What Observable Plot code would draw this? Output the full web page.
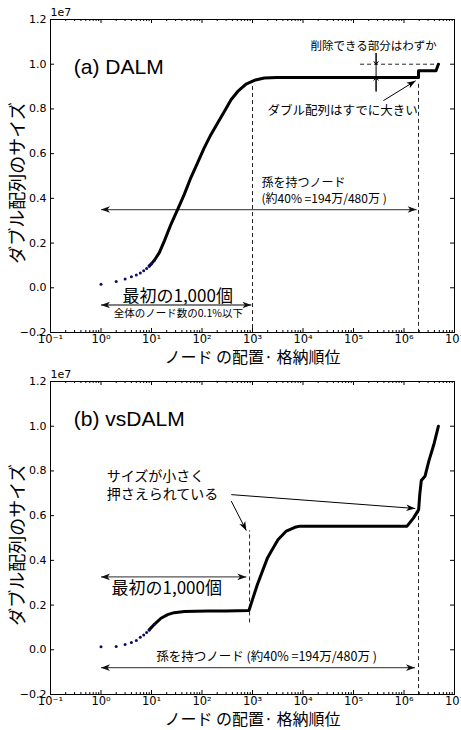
<!DOCTYPE html>
<html><head><meta charset="utf-8">
<script src="https://cdn.jsdelivr.net/npm/d3@7"></script>
<script src="https://cdn.jsdelivr.net/npm/@observablehq/plot@0.6"></script>
<style>body{margin:0;background:#fff} #c svg{display:block}</style>
</head><body><div id="c"></div>
<script>
// ---- data (y in units of 1e7) ----
const aX = [1,2,3,4,5,6,7,8,9,10,11.4,14.3,18,24.3,33,44.6,60,81.6,110,150,204,277,376,510,745,1090,1710,3000,1.94e6,1.94e6,4.3e6,4.8e6];
const aY = [0.016,0.028,0.039,0.049,0.057,0.066,0.076,0.086,0.097,0.108,0.123,0.157,0.21,0.284,0.351,0.418,0.492,0.559,0.625,0.685,0.737,0.789,0.841,0.878,0.911,0.928,0.938,0.941,0.941,0.971,0.971,1.0];
const bX = [1,2,3,4,5,6,7,8,9,11.4,15.4,20.9,28,44.7,130,300,850,1250,1980,2350,3220,4680,6900,8700,20000,1.15e6,1.55e6,1.95e6,2.05e6,2.2e6,2.6e6,3.1e6,3.9e6,4.8e6];
const bY = [0.014,0.015,0.024,0.033,0.042,0.056,0.066,0.077,0.089,0.114,0.141,0.157,0.166,0.171,0.173,0.174,0.176,0.292,0.411,0.441,0.493,0.531,0.548,0.553,0.553,0.553,0.59,0.627,0.694,0.757,0.776,0.844,0.918,1.0];
const yTicks = [-0.2,0,0.2,0.4,0.6,0.8,1.0,1.2];
const xTicks = [1e-1,1e0,1e1,1e2,1e3,1e4,1e5,1e6,1e7];
const yLabel = "ダブル配列のサイズ";
const xLabel = "ノード の配置· 格納順位";
const titleA = "(a) DALM";
const titleB = "(b) vsDALM";
const offsetText = "1e7";

// ---- layout ----
const W = 461, ml = 50, mr = 7, fh = 313;
const fw = W - ml - mr;
const panels = {a: {H: 368, mt: 19, mb: 36, xl: 25, xf: 16}, b: {H: 362, mt: 13, mb: 36, xl: 25, xf: 16}};
const xs = d3.scaleLog([0.1, 1e7], [ml, W - mr]);
const ys = d3.scaleLinear([-0.2, 1.2], [fh, 0]);
const minor = [];
for (let e = -1; e < 7; e++) for (let k = 2; k <= 9; k++) minor.push(k * Math.pow(10, e));
const supMap = {"-":"⁻","0":"⁰","1":"¹","2":"²","3":"³","4":"⁴","5":"⁵","6":"⁶","7":"⁷","8":"⁸","9":"⁹"};
const supFmt = d => "10" + String(Math.round(Math.log10(d))).split("").map(c => supMap[c]).join("");
const JP = "Noto Sans CJK JP";

function headSym(angle) {
  const c = Math.cos(angle), s = Math.sin(angle);
  const pts = [[0,0],[-9,-3.3],[-6.5,0],[-9,3.3]].map(([x,y]) => [x*c - y*s, x*s + y*c]);
  return {draw(ctx) { ctx.moveTo(pts[0][0], pts[0][1]); for (const p of pts.slice(1)) ctx.lineTo(p[0], p[1]); ctx.closePath(); }};
}
function arrow(x1, y1, x2, y2, {double = false, stroke = "#000", head = "#000", sw = 1} = {}) {
  const ang = Math.atan2(ys(y2) - ys(y1), xs(x2) - xs(x1));
  const marks = [
    Plot.link([{x1, y1, x2, y2}], {x1: "x1", y1: "y1", x2: "x2", y2: "y2", stroke, strokeWidth: sw}),
    Plot.dot([{x: x2, y: y2}], {x: "x", y: "y", symbol: headSym(ang), fill: head, stroke: "none", r: 3})
  ];
  if (double) marks.push(Plot.dot([{x: x1, y: y1}], {x: "x", y: "y", symbol: headSym(ang + Math.PI), fill: head, stroke: "none", r: 3}));
  return marks;
}
function txt(x, y, t, o = {}) {
  return Plot.text([{x, y, t}], {x: "x", y: "y", text: "t", fill: "#000", fontFamily: JP, ...o});
}
function dashV(x, y1, y2) {
  return Plot.ruleX([{x, y1, y2}], {x: "x", y1: "y1", y2: "y2", stroke: "#222", strokeWidth: 1, strokeDasharray: "4,3"});
}

function base(X, Y, title, extra, {H, mt, mb, xl, xf}) {
  const pts = X.map((x, i) => ({x, y: Y[i]}));
  return Plot.plot({
    width: W, height: H, marginTop: mt, marginBottom: mb, marginLeft: ml, marginRight: mr,
    x: {type: "log", domain: [0.1, 1e7]},
    y: {domain: [-0.2, 1.2]},
    style: {fontFamily: "DejaVu Sans", fontSize: "11px", color: "#000", background: "#fff"},
    marks: [
      ...extra,
      Plot.line(pts.filter(d => d.x >= 9), {x: "x", y: "y", stroke: "#000", strokeWidth: 3, strokeLinejoin: "round"}),
      Plot.dot(pts.filter(d => d.x <= 11.5), {x: "x", y: "y", r: 1.5, fill: "#0b0b6e", stroke: "none"}),
      Plot.frame({stroke: "#000", strokeWidth: 1}),
      Plot.tickX(xTicks, {x: d => d, insetTop: fh - 4, stroke: "#000"}),
      Plot.tickX(xTicks, {x: d => d, insetBottom: fh - 4, stroke: "#000"}),
      Plot.tickX(minor, {x: d => d, insetTop: fh - 2, stroke: "#000"}),
      Plot.tickX(minor, {x: d => d, insetBottom: fh - 2, stroke: "#000"}),
      Plot.tickY(yTicks, {y: d => d, insetRight: fw - 4, stroke: "#000"}),
      Plot.tickY(yTicks, {y: d => d, insetLeft: fw - 4, stroke: "#000"}),
      Plot.axisX(xTicks, {tickSize: 0, tickPadding: 2, tickFormat: supFmt, fontSize: 11.5}),
      Plot.axisY(yTicks, {tickSize: 0, tickPadding: 4, tickFormat: d3.format(".1f"), fontSize: 11}),
      Plot.text([offsetText], {frameAnchor: "top-left", dy: -7, textAnchor: "start", lineAnchor: "middle", text: d => d, fontSize: 11}),
      Plot.text([yLabel], {frameAnchor: "left", dx: -32, dy: 7, rotate: -90, textAnchor: "middle", lineAnchor: "middle", text: d => d, fontSize: 18, fontFamily: JP}),
      Plot.text([xLabel], {frameAnchor: "bottom", dy: xl, textAnchor: "middle", lineAnchor: "middle", text: d => d, fontSize: xf, fontFamily: JP}),
      txt(0.29, title === titleA ? 0.987 : 1.03, title, {textAnchor: "start", fontSize: 21, fontFamily: "Liberation Sans"})
    ]
  });
}

const extraA = [
  dashV(1000, 0.9, -0.2),
  dashV(1.94e6, 0.91, -0.2),
  Plot.ruleY([{y: 1.0}], {y: "y", x1: 1.38e5, x2: 5.2e6, stroke: "#222", strokeDasharray: "4,3"}),
  Plot.ruleX([{x: 2.8e5}], {x: "x", y1: 1.048, y2: 0.878, stroke: "#000", strokeWidth: 1}),
  Plot.arrow([{x1: 2.8e5, y1: 1.048, x2: 2.8e5, y2: 1.0}], {x1: "x1", y1: "y1", x2: "x2", y2: "y2", headLength: 5, headAngle: 80, stroke: "#000", strokeWidth: 1}),
  Plot.arrow([{x1: 2.8e5, y1: 0.878, x2: 2.8e5, y2: 0.94}], {x1: "x1", y1: "y1", x2: "x2", y2: "y2", headLength: 5, headAngle: 80, stroke: "#000", strokeWidth: 1}),
  txt(2.5e5, 1.079, "削除できる部分はわずか", {fontSize: 11.5}),
  txt(6.1e4, 0.789, "ダブル配列はすでに大きい", {fontSize: 12.5}),
  ...arrow(3.9e5, 0.837, 1.7e6, 0.926),
  txt(1000, 0.466, "孫を持つノード", {textAnchor: "start", dx: 9, fontSize: 12}),
  txt(1000, 0.395, "(約40% =194万/480万 )", {textAnchor: "start", dx: 9, fontSize: 12}),
  ...arrow(1, 0.35, 1.78e6, 0.35, {double: true, stroke: "#555", head: "#111", sw: 1.3}),
  txt(33, -0.04, "最初の1,000個", {fontSize: 17}),
  ...arrow(1, -0.077, 950, -0.077, {double: true, stroke: "#555", head: "#111", sw: 1.3}),
  txt(34, -0.115, "全体のノード数の0.1%以下", {fontSize: 10.5})
];
const extraB = [
  dashV(875, 0.12, 0.532),
  dashV(1.94e6, 0.627, -0.2),
  txt(1.3, 0.776, "サイズが小さく", {textAnchor: "start", fontSize: 14}),
  txt(1.3, 0.694, "押さえられている", {textAnchor: "start", fontSize: 14}),
  ...arrow(380, 0.694, 1.67e6, 0.632),
  ...arrow(380, 0.665, 755, 0.533),
  ...arrow(1, 0.326, 755, 0.326, {double: true, stroke: "#555", head: "#111", sw: 1.3}),
  txt(20, 0.273, "最初の1,000個", {fontSize: 17}),
  txt(1900, -0.031, "孫を持つノード (約40% =194万/480万 )", {fontSize: 12.5}),
  ...arrow(1, -0.08, 1.65e6, -0.08, {double: true, stroke: "#555", head: "#111", sw: 1.3})
];

const c = document.getElementById("c");
c.appendChild(base(aX, aY, titleA, extraA, panels.a));
c.appendChild(base(bX, bY, titleB, extraB, panels.b));
</script>
</body></html>
